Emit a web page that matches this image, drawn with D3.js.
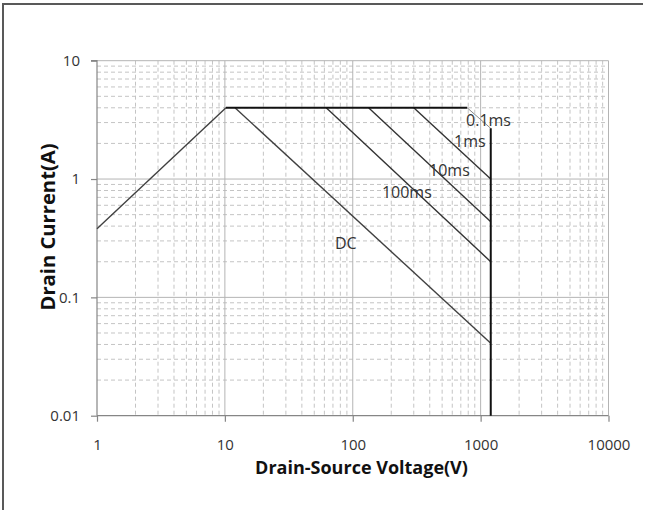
<!DOCTYPE html>
<html><head><meta charset="utf-8">
<script src="https://cdn.jsdelivr.net/npm/d3@7"></script>
<style>body{margin:0;background:#fff}svg{display:block}</style>
</head><body>
<svg id="c" width="645" height="510"></svg>
<script>
// ---- data ----
const xTicks = [1, 10, 100, 1000, 10000];
const yTicks = [0.01, 0.1, 1, 10];
const xTickLabels = ["1", "10", "100", "1000", "10000"];
const yTickLabels = ["0.01", "0.1", "1", "10"];
const rdsLimit = [[1, 0.38], [10.2, 4]];
const currentLimit = [[10.2, 4], [785, 4]];
const pulse01ms = [[785, 4], [1200, 2.68]];
const voltageLimit = [[1200, 2.68], [1200, 0.01]];
const pulse1ms = [[300, 4], [1200, 1.0]];
const pulse10ms = [[133, 4], [1200, 0.436]];
const pulse100ms = [[62, 4], [1200, 0.2]];
const dcLine = [[12, 4], [1200, 0.041]];
const curveLabels = ["0.1ms", "1ms", "10ms", "100ms", "DC"];
const curveLabelV = [769, 619, 395, 169, 72.6];
const curveLabelI = [3.11, 2.07, 1.19, 0.776, 0.288];
const xTitle = "Drain-Source Voltage(V)";
const yTitle = "Drain Current(A)";

// ---- chart ----
const svg = d3.select("#c");
const x = d3.scaleLog().domain([1, 10000]).range([97, 608.5]);
const y = d3.scaleLog().domain([0.01, 10]).range([415.7, 60.7]);
const FONT = "'Open Sans', 'Liberation Sans', sans-serif";

// frame
svg.append("path").attr("d", "M3,510 L3,4 L643,4")
  .attr("fill", "none").attr("stroke", "#595959").attr("stroke-width", 2);

// minor & major grid values
const minorX = [], minorY = [];
for (let d = 1; d < 10000; d *= 10) for (let k = 2; k <= 9; k++) minorX.push(d * k);
for (let d = 0.01; d < 9.9; d *= 10) for (let k = 2; k <= 9; k++) minorY.push(d * k);

const g = svg.append("g");
g.selectAll(".mx").data(minorX).join("line")
  .attr("x1", d => x(d)).attr("x2", d => x(d))
  .attr("y1", y(10)).attr("y2", y(0.01))
  .attr("stroke", "#c4c4c4").attr("stroke-width", 1).attr("stroke-dasharray", "4,3");
g.selectAll(".my").data(minorY).join("line")
  .attr("y1", d => y(d)).attr("y2", d => y(d))
  .attr("x1", x(1)).attr("x2", x(10000))
  .attr("stroke", "#c4c4c4").attr("stroke-width", 1).attr("stroke-dasharray", "4,3");
g.selectAll(".Mx").data(xTicks.slice(1)).join("line")
  .attr("x1", d => x(d)).attr("x2", d => x(d))
  .attr("y1", y(10)).attr("y2", y(0.01))
  .attr("stroke", "#b4b4b4").attr("stroke-width", 1);
g.selectAll(".My").data(yTicks.slice(1)).join("line")
  .attr("y1", d => y(d)).attr("y2", d => y(d))
  .attr("x1", x(1)).attr("x2", x(10000))
  .attr("stroke", "#b4b4b4").attr("stroke-width", 1);

// axes
const xAxis = d3.axisBottom(x).tickValues(xTicks).tickFormat((d, i) => xTickLabels[i]).tickSize(6).tickPadding(18);
const yAxis = d3.axisLeft(y).tickValues(yTicks).tickFormat((d, i) => yTickLabels[i]).tickSize(6).tickPadding(11);
const gx = svg.append("g").attr("transform", `translate(0,${y(0.01)})`).call(xAxis);
const gy = svg.append("g").attr("transform", `translate(${x(1)},0)`).call(yAxis);
[gx, gy].forEach(a => {
  a.select(".domain").attr("stroke", "#868686").attr("stroke-width", 1.2);
  a.selectAll(".tick line").attr("stroke", "#868686").attr("stroke-width", 1.2);
  a.selectAll(".tick text").attr("fill", "#333").style("font-family", FONT).style("font-size", "15px");
});
gy.select(".domain").attr("d", `M-6,${y(10)}H0V${y(0.01)}`);
gx.select(".domain").attr("d", `M${x(1)},0H${x(10000)}`);

// curves
const line = d3.line().x(d => x(d[0])).y(d => y(d[1]));
const draw = (data, color, w) => svg.append("path").datum(data).attr("d", line)
  .attr("fill", "none").attr("stroke", color).attr("stroke-width", w);
draw(rdsLimit, "#404040", 1.4);
draw(dcLine, "#404040", 1.4);
draw(pulse100ms, "#333", 1.4);
draw(pulse10ms, "#333", 1.4);
draw(pulse1ms, "#333", 1.4);
draw(pulse01ms, "#888", 1.0);
draw(currentLimit, "#111", 2);
draw(voltageLimit, "#111", 2);

// curve labels
svg.selectAll(".cl").data(curveLabels).join("text")
  .attr("x", (d, i) => x(curveLabelV[i])).attr("y", (d, i) => y(curveLabelI[i]))
  .attr("dy", "0.35em").attr("fill", "#333")
  .style("font-family", FONT).style("font-size", "16px").text(d => d);

// axis titles
const fit = (t, w) => { const l = t.node().getComputedTextLength(); t.style("font-size", (16 * w / l).toFixed(2) + "px"); };
const xt = svg.append("text").attr("x", 361.5).attr("y", 468).attr("dy", "0.35em")
  .attr("text-anchor", "middle").attr("fill", "#111")
  .style("font-family", FONT).style("font-weight", "bold").style("font-size", "16px").text(xTitle);
fit(xt, 213);
const yt = svg.append("text").attr("transform", "translate(47.5,227) rotate(-90)").attr("dy", "0.35em")
  .attr("text-anchor", "middle").attr("fill", "#111")
  .style("font-family", FONT).style("font-weight", "bold").style("font-size", "16px").text(yTitle);
fit(yt, 167);
</script>
</body></html>
